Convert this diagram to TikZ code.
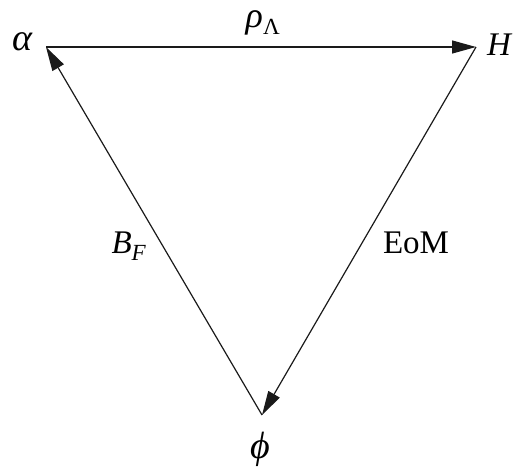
\documentclass[tikz,border=0pt]{standalone}
\usepackage{fontspec}
\setmainfont{Liberation Serif}
\usetikzlibrary{arrows.meta, positioning}
\definecolor{cline}{HTML}{1A1A1A}
\tikzset{
  every picture/.style={line width=1.2pt},
  edge/.style={-{Triangle[length=24pt, width=13pt]}, draw=cline},
  vlabel/.style={font=\fontsize{33}{36}\selectfont\itshape, inner sep=0pt},
  greek/.style={font=\fontsize{38}{40}\selectfont\itshape, inner sep=0pt},
  elabel/.style={font=\fontsize{33}{36}\selectfont, inner sep=0pt},
}

\begin{document}
\begin{tikzpicture}[x=1pt, y=-1pt]
  \useasboundingbox (0,0) rectangle (513,468);
  % corners of the triangle
  \coordinate (alpha) at (46,47);
  \coordinate (H) at (476,47);
  \coordinate (phi) at (262,415);
  % vertex labels
  \node[greek] (lalpha) at (22,42) {α};
  \node[vlabel] (lH) at (499,45) {H};
  \node[greek] (lphi) at (260,449) {ϕ};
  % edges
  \draw[edge] (alpha) -- (H);
  \draw[edge] (H) -- (phi);
  \draw[edge] (phi) -- (alpha);
  % edge labels
  \node[elabel] (lrho) at (263,23) {{\fontsize{36}{38}\selectfont\itshape ρ}\textsubscript{Λ}};
  \node[elabel] (lB) at (129,246) {\textit{B}\textsubscript{\textit{F}}};
  \node[elabel] (lEoM) at (416,243) {EoM};
\end{tikzpicture}
\end{document}
